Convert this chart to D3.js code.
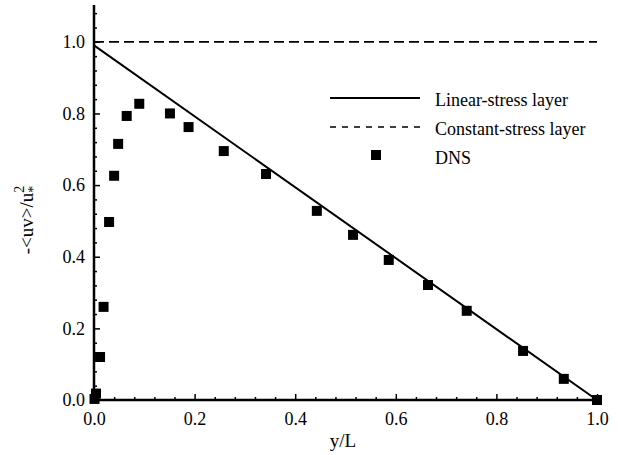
<!DOCTYPE html>
<html>
<head>
<meta charset="UTF-8">
<style>
  body { margin: 0; padding: 0; background: #fff; }
  text { font-family: "Liberation Serif", "Times New Roman", serif; fill: #000; }
</style>
</head>
<body>
<svg width="618" height="455"></svg>
<script src="https://d3js.org/d3.v7.min.js"></script>
<script>

// DNS points (y/L, -<uv>/u*^2)
var dnsX = [0.001, 0.004, 0.012, 0.019, 0.030, 0.040, 0.048, 0.065, 0.090, 0.151, 0.188, 0.258, 0.342, 0.443, 0.515, 0.586, 0.664, 0.741, 0.853, 0.934, 1.0]
var dnsY = [0.003, 0.018, 0.12, 0.26, 0.497, 0.626, 0.715, 0.793, 0.827, 0.80, 0.762, 0.695, 0.631, 0.528, 0.461, 0.391, 0.321, 0.249, 0.137, 0.059, 0.0]

var linearX = [0.0, 1.0]
var linearY = [0.99, 0.0]
var constX = [0.0, 1.0]
var constY = [1.0, 1.0]

var xTicks = [0, 0.2, 0.4, 0.6, 0.8, 1.0]
var yTicks = [0, 0.2, 0.4, 0.6, 0.8, 1.0]
var legendLabels = ["Linear-stress layer", "Constant-stress layer", "DNS"]

var svg = d3.select("svg")

var x = d3.scaleLinear().domain([0, 1.0]).range([94, 597])
var y = d3.scaleLinear().domain([0, 1.1]).range([400, 6])

var minorX = d3.range(0, 1.0001, 0.04).filter(v => Math.abs(v * 5 - Math.round(v * 5)) > 1e-6)
var minorY = d3.range(0, 1.1001, 0.04).filter(v => Math.abs(v * 5 - Math.round(v * 5)) > 1e-6)

// minor ticks
svg.append("g")
  .attr("transform", "translate(0,400)")
  .call(d3.axisBottom(x).tickValues(minorX).tickSize(-3).tickSizeOuter(0).tickFormat(""))
  .call(g => g.select(".domain").remove())
  .selectAll("line").attr("stroke-width", 1.5)

svg.append("g")
  .attr("transform", "translate(94,0)")
  .call(d3.axisLeft(y).tickValues(minorY).tickSize(-3).tickSizeOuter(0).tickFormat(""))
  .call(g => g.select(".domain").remove())
  .selectAll("line").attr("stroke-width", 1.5)

// major ticks
var xAxis = svg.append("g")
  .attr("transform", "translate(0,400)")
  .call(d3.axisBottom(x).tickValues(xTicks).tickSize(-6).tickSizeOuter(0).tickPadding(12).tickFormat(d3.format(".1f")))
xAxis.select(".domain").remove()
xAxis.selectAll("line").attr("stroke-width", 1.5)
xAxis.selectAll("text").style("font-size", "18px").attr("font-family", null)

var yAxis = svg.append("g")
  .attr("transform", "translate(94,0)")
  .call(d3.axisLeft(y).tickValues(yTicks).tickSize(-6).tickSizeOuter(0).tickPadding(9).tickFormat(d3.format(".1f")))
yAxis.select(".domain").remove()
yAxis.selectAll("line").attr("stroke-width", 1.5)
yAxis.selectAll("text").style("font-size", "18px").attr("font-family", null)

// axis lines
svg.append("line").attr("x1", 94).attr("x2", 94).attr("y1", y(1.1) - 1).attr("y2", 401.5)
  .attr("stroke", "#000").attr("stroke-width", 2.5)
svg.append("line").attr("x1", 93).attr("x2", x(1.0) + 5).attr("y1", 400).attr("y2", 400)
  .attr("stroke", "#000").attr("stroke-width", 2.5)

var line = d3.line().x(d => x(d[0])).y(d => y(d[1]))

svg.append("path")
  .datum(constX.map((v, i) => [v, constY[i]]))
  .attr("d", line)
  .attr("fill", "none").attr("stroke", "#000").attr("stroke-width", 1.7)
  .attr("stroke-dasharray", "10,5")

svg.append("path")
  .datum(linearX.map((v, i) => [v, linearY[i]]))
  .attr("d", line)
  .attr("fill", "none").attr("stroke", "#000").attr("stroke-width", 2)

var s = 10
svg.selectAll("rect.dns")
  .data(dnsX.map((v, i) => [v, dnsY[i]]))
  .enter().append("rect")
  .attr("class", "dns")
  .attr("x", d => x(d[0]) - s / 2)
  .attr("y", d => y(d[1]) - s / 2)
  .attr("width", s).attr("height", s)
  .attr("fill", "#000")

// axis titles
svg.append("text")
  .attr("x", 343).attr("y", 447)
  .attr("text-anchor", "middle")
  .style("font-size", "19px")
  .text("y/L")

var yl = svg.append("text")
  .attr("transform", "translate(33,220) rotate(-90)")
  .attr("text-anchor", "middle")
  .style("font-size", "19px")
yl.append("tspan").text("-<uv>/u")
yl.append("tspan").attr("dy", -9).style("font-size", "14px").text("2")
yl.append("tspan").attr("dx", -7).attr("dy", 14).style("font-size", "14px").text("*")

// legend
var lg = svg.append("g")
var rows = [100, 129, 158]
lg.append("line").attr("x1", 330).attr("x2", 420).attr("y1", rows[0] - 2).attr("y2", rows[0] - 2)
  .attr("stroke", "#000").attr("stroke-width", 2)
lg.append("line").attr("x1", 330).attr("x2", 420).attr("y1", rows[1] - 2).attr("y2", rows[1] - 2)
  .attr("stroke", "#000").attr("stroke-width", 1.7).attr("stroke-dasharray", "6,6")
lg.append("rect").attr("x", 371).attr("y", rows[2] - 8).attr("width", s).attr("height", s).attr("fill", "#000")

lg.selectAll("text.leg")
  .data(legendLabels)
  .enter().append("text")
  .attr("class", "leg")
  .attr("x", 435)
  .attr("y", (d, i) => rows[i] + 6)
  .style("font-size", "18px")
  .text(d => d)

</script>
</body>
</html>
